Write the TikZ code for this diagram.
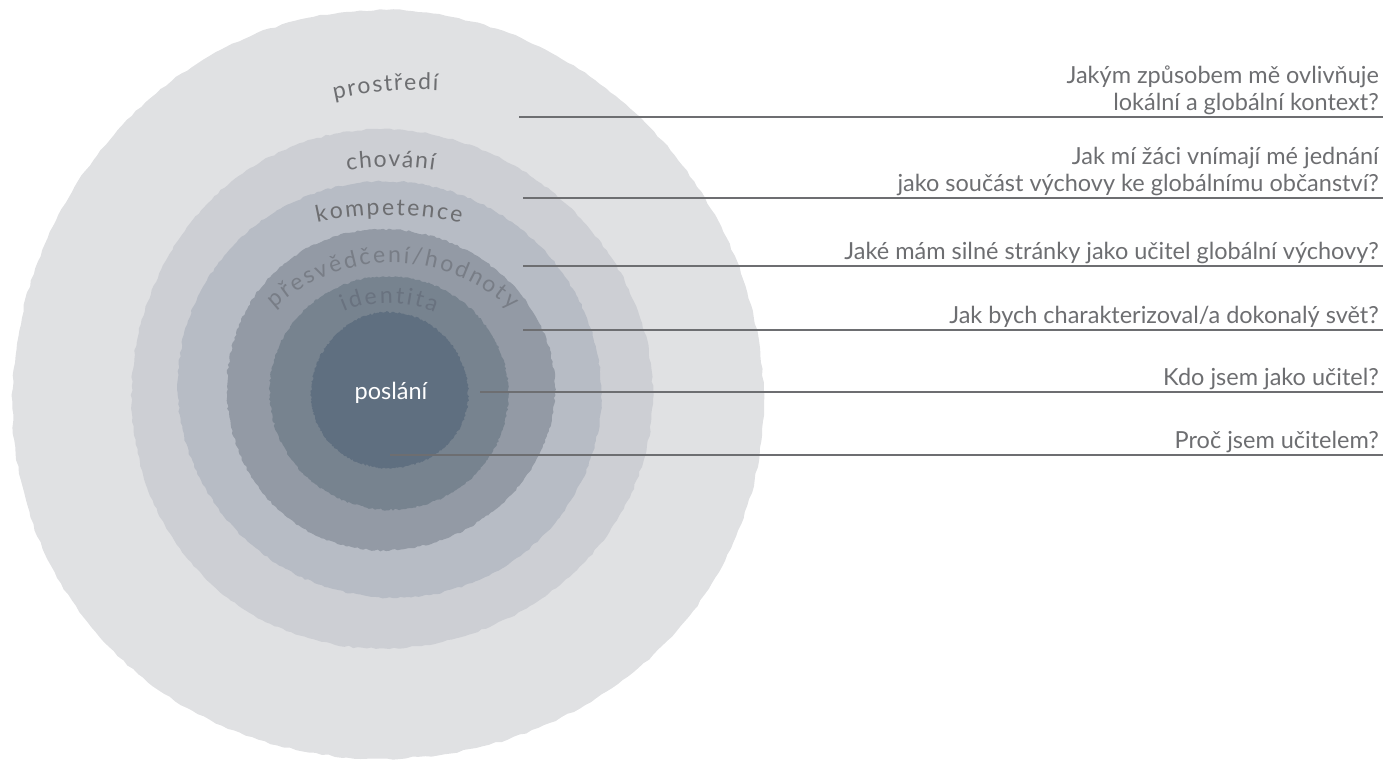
\documentclass[tikz,border=0pt]{standalone}
\usepackage{fontspec}
\setmainfont{Lato}
\usetikzlibrary{decorations.text}
\definecolor{cOut}{HTML}{E0E1E3}
\definecolor{cBeh}{HTML}{CDCFD4}
\definecolor{cCom}{HTML}{B7BCC5}
\definecolor{cBel}{HTML}{939AA5}
\definecolor{cIde}{HTML}{77838F}
\definecolor{cMis}{HTML}{5F6F80}
\definecolor{txt}{HTML}{6D6E71}
\definecolor{txtBel}{HTML}{787D86}
\definecolor{txtIde}{HTML}{69727F}
\definecolor{linec}{HTML}{6D6E71}
\tikzset{
  blob/.style={fill=#1, draw=none},
  qtext/.style={font=\fontsize{23.5}{26.5}\selectfont, text=txt, inner sep=0pt,
    align=right, anchor=base east},
  qline/.style={draw=linec, line width=1.8pt},
  arclabel/.style={decorate, decoration={text along path, text align=center, text={#1}}},
}
% \blobpath{cx}{cy}{rx}{ry}{k}{phase}
\newcommand{\blobpath}[6]{plot[domain=0:359, samples=360]
  ({#1+(#3*(1+0.012*sin(#5*\x+#6))+1.0*rand)*cos(\x)},
   {#2+(#4*(1+0.012*sin(#5*\x+#6))+1.0*rand)*sin(\x)}) -- cycle}
\newcommand{\arcfmt}[2]{\fontsize{23}{23}\selectfont\color{#1}\kern#2pt}
\begin{document}
\begin{tikzpicture}[x=1pt,y=-1pt]
\useasboundingbox (0,0) rectangle (1383,764);
\pgfmathsetseed{7}
% layers
\fill[blob=cOut] \blobpath{386.5}{388.5}{375.5}{374.5}{3}{20};
\fill[blob=cBeh] \blobpath{389.5}{390.5}{260.5}{259.5}{3}{60};
\fill[blob=cCom] \blobpath{389.5}{389.5}{210.5}{209.5}{2}{30};
\fill[blob=cBel] \blobpath{389}{389.5}{164}{160.5}{3}{100};
\fill[blob=cIde] \blobpath{389}{393}{118}{118}{2}{70};
\fill[blob=cMis] \blobpath{389.5}{391}{78.5}{78}{3}{10};
% layer labels
\path[arclabel={|\arcfmt{txt}{1.6}|prostředí}]
  (420,490) ++(250:400) arc[start angle=250, end angle=280, radius=400];
\path[arclabel={|\arcfmt{txt}{1.5}|chování}]
  (390,467) ++(255:300) arc[start angle=255, end angle=285, radius=300];
\path[arclabel={|\arcfmt{txt}{2.2}|kompetence}]
  (388,545) ++(245:330) arc[start angle=245, end angle=295, radius=330];
\path[arclabel={|\arcfmt{txtBel}{2.4}|přesvědčení/hodnoty}]
  (392,438) ++(200:175) arc[start angle=200, end angle=340, radius=175];
\path[arclabel={|\arcfmt{txtIde}{2.4}|identita}]
  (388,418) ++(225:115) arc[start angle=225, end angle=315, radius=115];
\node[font=\fontsize{23.5}{26}\selectfont, text=white, inner sep=0pt, anchor=base] (mis) at (391,399) {poslání};
% questions
\node[qtext] (q1) at (1379,110) {Jakým způsobem mě ovlivňuje\\lokální a globální kontext?};
\node[qtext] (q2) at (1379,191) {Jak mí žáci vnímají mé jednání\\jako součást výchovy ke globálnímu občanství?};
\node[qtext] (q3) at (1379,259) {Jaké mám silné stránky jako učitel globální výchovy?};
\node[qtext] (q4) at (1379,323) {Jak bych charakterizoval/a dokonalý svět?};
\node[qtext] (q5) at (1379,385) {Kdo jsem jako učitel?};
\node[qtext] (q6) at (1379,448) {Proč jsem učitelem?};
% leader lines
\coordinate (s1) at (519,117); \coordinate (e1) at (1383,117);
\coordinate (s2) at (523,198); \coordinate (e2) at (1383,198);
\coordinate (s3) at (523,266); \coordinate (e3) at (1383,266);
\coordinate (s4) at (523,330); \coordinate (e4) at (1383,330);
\coordinate (s5) at (480,392); \coordinate (e5) at (1383,392);
\coordinate (s6) at (390,455); \coordinate (e6) at (1383,455);
\foreach \i in {1,...,6} { \draw[qline] (s\i) -- (e\i); }
\end{tikzpicture}
\end{document}
